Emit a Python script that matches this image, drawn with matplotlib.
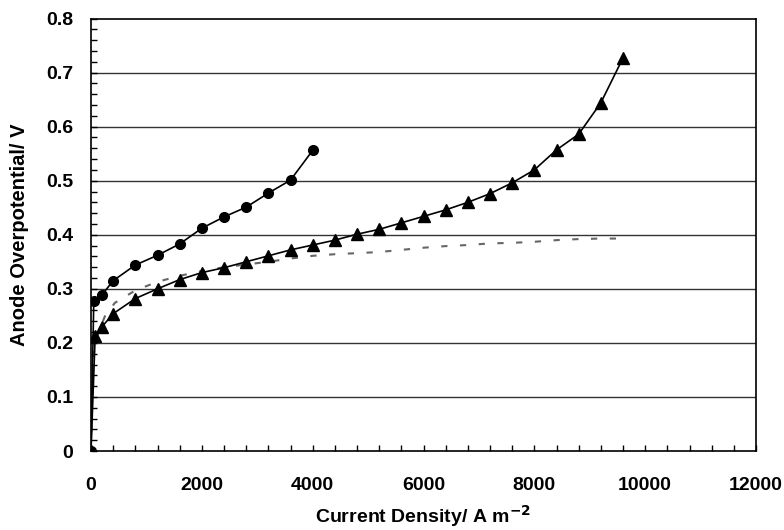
import numpy as np
import matplotlib
matplotlib.use('Agg')
import matplotlib.pyplot as plt
from matplotlib.ticker import MultipleLocator

plt.rcParams['font.family'] = ['Liberation Sans', 'DejaVu Sans']

# circles
cd_circ = [0, 50, 200, 400, 800, 1200, 1600, 2000, 2400, 2800, 3200, 3600, 4000]
eta_circ = [0, 0.278, 0.289, 0.315, 0.344, 0.362, 0.383, 0.412, 0.433, 0.451, 0.477, 0.501, 0.556]

# triangles
cd_tri = [0, 75, 200, 400, 800, 1200, 1600, 2000, 2400, 2800, 3200, 3600, 4000, 4400,
          4800, 5200, 5600, 6000, 6400, 6800, 7200, 7600, 8000, 8400, 8800, 9200, 9600]
eta_tri = [0, 0.212, 0.230, 0.254, 0.282, 0.300, 0.317, 0.330, 0.339, 0.350, 0.361, 0.372,
           0.381, 0.390, 0.401, 0.410, 0.422, 0.434, 0.446, 0.460, 0.476, 0.496, 0.520,
           0.557, 0.586, 0.644, 0.727]

# dashed
cd_dash = [0, 20, 50, 100, 250, 430, 800, 1200, 1600, 2000, 2400, 2800, 3200, 3600, 4000,
           4400, 4800, 5200, 5600, 6000, 6400, 6800, 7200, 7600, 8000, 8400, 8800, 9200, 9600]
eta_dash = [0, 0.12, 0.18, 0.21, 0.249, 0.274, 0.297, 0.313, 0.324, 0.333, 0.340, 0.345,
            0.350, 0.356, 0.361, 0.364, 0.366, 0.368, 0.372, 0.376, 0.379, 0.381, 0.384,
            0.385, 0.387, 0.390, 0.392, 0.393, 0.393]

fig = plt.figure(figsize=(7.84, 5.30), dpi=100)
ax = fig.add_axes([91/784, 1-451/530, (756-91)/784, (451-18.5)/530])

for yv in np.arange(0.1, 0.75, 0.1):
    ax.axhline(yv, color='#333333', lw=1.0, zorder=1)

ax.plot(cd_dash, eta_dash, color='#666666', lw=1.5, dashes=(3, 6), zorder=2)
ax.plot(cd_tri, eta_tri, 'k-^', lw=1.2, markersize=8, zorder=3)
ax.plot(cd_circ, eta_circ, 'k-o', lw=1.2, markersize=7, zorder=3)

ax.set_xlim(0, 12000)
ax.set_ylim(0, 0.8)
ax.xaxis.set_major_locator(MultipleLocator(2000))
ax.xaxis.set_minor_locator(MultipleLocator(400))
ax.yaxis.set_minor_locator(MultipleLocator(0.02))
ax.set_yticks(np.arange(0, 0.81, 0.1))
ax.set_yticklabels(['0', '0.1', '0.2', '0.3', '0.4', '0.5', '0.6', '0.7', '0.8'])

ax.tick_params(which='both', direction='in', length=4, width=1)
ax.tick_params(axis='x', which='major', pad=19)
ax.tick_params(axis='y', which='major', pad=13)
for lab in ax.get_xticklabels() + ax.get_yticklabels():
    lab.set_fontsize(14)
    lab.set_fontweight('bold')

for s in ax.spines.values():
    s.set_linewidth(1.2)

fig.text(423/784, 1-516/530, 'Current Density/ A m$^{\\mathbf{-2}}$', fontsize=14,
         fontweight='bold', ha='center', va='center')
fig.text(20/784, 1-235/530, 'Anode Overpotential/ V', fontsize=14.5, fontweight='bold',
         ha='center', va='center', rotation=90)

fig.savefig('out.png', dpi=100)
